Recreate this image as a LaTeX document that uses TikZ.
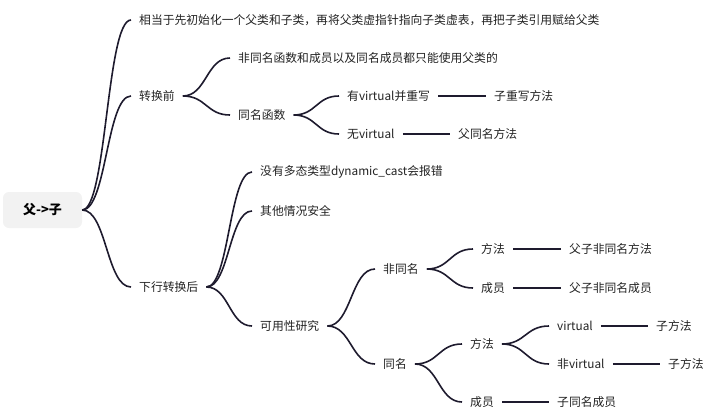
\documentclass[tikz,border=0pt]{standalone}
\usepackage{fontspec}
\setmainfont{Noto Sans CJK SC}
\usetikzlibrary{calc}
\definecolor{linec}{HTML}{1E1B2E}
\definecolor{txt}{HTML}{222222}
\definecolor{rootbg}{HTML}{F2F2F2}
\begin{document}
\begin{tikzpicture}[x=1pt,y=-1pt,
  lbl/.style={anchor=west,inner xsep=8pt,inner ysep=2pt,text=txt,font=\fontsize{11.8pt}{14pt}\selectfont},
  rootbox/.style={fill=rootbg,rounded corners=6pt,minimum width=79pt,minimum height=36pt,inner sep=0pt,text=black,font=\fontsize{13pt}{15pt}\selectfont\bfseries},
  conn/.style={draw=linec,line width=1.6pt},
  branch/.style={conn,to path={let \p1=(\tikztostart), \p2=(\tikztotarget) in .. controls ({(\x1+\x2)/2},\y1) and ({(\x1+\x2)/2},\y2) .. (\tikztotarget)}}
]
\useasboundingbox (0,0) rectangle (715,413);
\node[rootbox] (root) at (42.5,210) {父->子};
\node[lbl] (n1) at (131,20) {相当于先初始化一个父类和子类，再将父类虚指针指向子类虚表，再把子类引用赋给父类};
\node[lbl] (n2) at (131,96) {转换前};
\node[lbl] (n3) at (131,287) {下行转换后};
\node[lbl] (n21) at (230,58) {非同名函数和成员以及同名成员都只能使用父类的};
\node[lbl] (n22) at (230,115) {同名函数};
\node[lbl] (n221) at (339,96) {有virtual并重写};
\node[lbl] (n222) at (339,134) {无virtual};
\node[lbl] (n2211) at (486,96) {子重写方法};
\node[lbl] (n2221) at (450,134) {父同名方法};
\node[lbl] (n31) at (252,172) {没有多态类型dynamic\_cast会报错};
\node[lbl] (n32) at (252,211) {其他情况安全};
\node[lbl] (n33) at (252,326) {可用性研究};
\node[lbl] (n331) at (375,269) {非同名};
\node[lbl] (n332) at (375,364) {同名};
\node[lbl] (n3311) at (473,249) {方法};
\node[lbl] (n3312) at (473,288) {成员};
\node[lbl] (n33111) at (561,249) {父子非同名方法};
\node[lbl] (n33121) at (561,288) {父子非同名成员};
\node[lbl] (n3321) at (462,344) {方法};
\node[lbl] (n3322) at (462,402) {成员};
\node[lbl] (n33211) at (549,326) {virtual};
\node[lbl] (n33212) at (549,364) {非virtual};
\node[lbl] (n332111) at (648,326) {子方法};
\node[lbl] (n332121) at (660,364) {子方法};
\node[lbl] (n33221) at (549,402) {子同名成员};
% curves
\foreach \a/\b in {root/n1,root/n2,root/n3,n2/n21,n2/n22,n22/n221,n22/n222,n3/n31,n3/n32,n3/n33,n33/n331,n33/n332,n331/n3311,n331/n3312,n332/n3321,n332/n3322,n3321/n33211,n3321/n33212}
  \draw[branch] (\a.east) to (\b.west);
% straight lines
\foreach \a/\b in {n221/n2211,n222/n2221,n3311/n33111,n3312/n33121,n33211/n332111,n33212/n332121,n3322/n33221}
  \draw[conn] (\a.east) -- (\b.west);
\end{tikzpicture}
\end{document}
